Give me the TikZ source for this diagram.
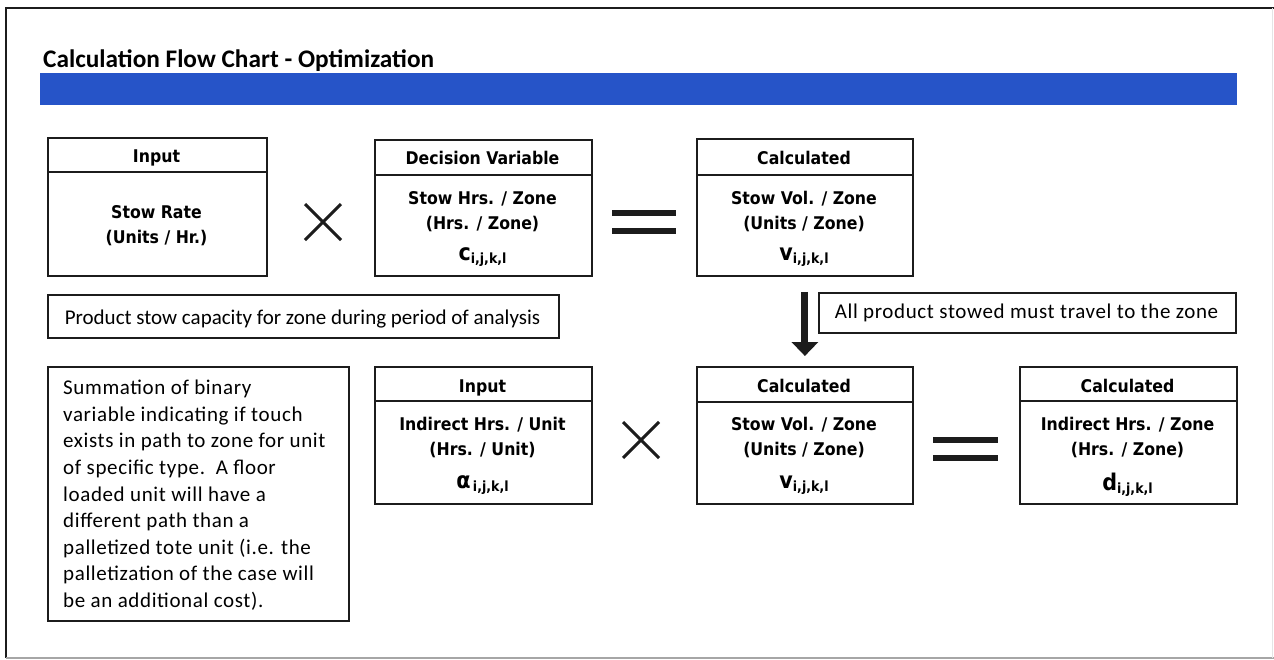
\documentclass[tikz,border=0pt]{standalone}
\usepackage{fontspec}
\setmainfont{Carlito}
\newfontfamily\boxfont{DejaVu Sans Condensed}
\newfontfamily\spacedfont{Carlito}[LetterSpace=3]
\usetikzlibrary{arrows.meta}
\definecolor{barblue}{RGB}{38,84,200}
\definecolor{ink}{RGB}{28,28,28}
% bold variable with a bold index
\newcommand\idxvar[2]{{\fontsize{23}{24}\selectfont #1}\raisebox{-3pt}{\fontsize{14}{16}\selectfont #2}}
\begin{document}
\begin{tikzpicture}[x=1pt,y=-1pt,
  box/.style={draw=ink, line width=1.8pt, anchor=north west, inner sep=0pt},
  lbl/.style={font=\boxfont\bfseries\fontsize{17.5}{20}\selectfont, anchor=base, inner sep=0pt},
  note/.style={font=\fontsize{21}{24}\selectfont, anchor=base, inner sep=0pt},
  times/.style={draw=ink, line width=3pt},
  eqbar/.style={draw=ink, line width=6pt},
  flow/.style={draw=ink, line width=7pt, -{Triangle[width=26pt,length=14pt]}},
]
\useasboundingbox (0,0) rectangle (1274,659);
\fill[white] (0,0) rectangle (1274,659);

% page frame
\draw[ink, line width=1.6pt] (1274,8) -- (6,8) -- (6,658);
\draw[gray!70, line width=1.4pt] (6,658) -- (1274,658);
\draw[gray!20, line width=1pt] (1272,8) -- (1272,658);

% title and banner
\node[font=\bfseries\fontsize{25.3}{28}\selectfont, anchor=base west, inner sep=0pt] (title) at (43,67) {Calculation Flow Chart - Optimization};
\fill[barblue] (40,73) rectangle (1237,105);

% ---- row 1 ----
\node[box, minimum width=219pt, minimum height=34pt] (Ahead) at (47,137) {};
\node[box, minimum width=219pt, minimum height=104pt] (Abody) at (47,171) {};
\node[lbl] (At) at (156.5,162) {Input};
\node[lbl] (Ab1) at (156.5,218) {Stow Rate};
\node[lbl] (Ab2) at (156.5,243) {(Units / Hr.)};

\draw[times] (305,204) -- (341,240) (305,240) -- (341,204);

\node[box, minimum width=217pt, minimum height=35pt] (Bhead) at (374,139) {};
\node[box, minimum width=217pt, minimum height=101pt] (Bbody) at (374,174) {};
\node[lbl] (Bt) at (482.5,164) {Decision Variable};
\node[lbl] (Bb1) at (482.5,204) {Stow Hrs. / Zone};
\node[lbl] (Bb2) at (482.5,229) {(Hrs. / Zone)};
\node[lbl] (Bb3) at (482.5,260) {\idxvar{c}{i,j,k,l}};

\draw[eqbar] (612,213) -- (676,213) (612,231) -- (676,231);

\node[box, minimum width=216pt, minimum height=36pt] (Chead) at (696,138) {};
\node[box, minimum width=216pt, minimum height=101pt] (Cbody) at (696,174) {};
\node[lbl] (Ct) at (804,164) {Calculated};
\node[lbl] (Cb1) at (804,204) {Stow Vol. / Zone};
\node[lbl] (Cb2) at (804,229) {(Units / Zone)};
\node[lbl] (Cb3) at (804,260) {\idxvar{v}{i,j,k,l}};

% ---- notes ----
\node[box, minimum width=511pt, minimum height=43pt] (N1) at (47,294) {};
\node[note] (N1t) at (302.5,324) {Product stow capacity for zone during period of analysis};
\node[box, minimum width=417pt, minimum height=40pt] (N2) at (818,292) {};
\node[note, font=\spacedfont\fontsize{21}{24}\selectfont] (N2t) at (1026.5,318) {All product stowed must travel to the zone};

% ---- row 2 ----
\node[box, minimum width=301pt, minimum height=254pt] (D) at (47,366) {};
\node[font=\spacedfont\fontsize{21}{26.6}\selectfont, anchor=north west, inner sep=0pt, align=left] (Dt) at (63,380)
  {Summation of binary\\
   variable indicating if touch\\
   exists in path to zone for unit\\
   of specific type.\ \ A floor\\
   loaded unit will have a\\
   different path than a\\
   palletized tote unit (i.e. the\\
   palletization of the case will\\
   be an additional cost).};

\node[box, minimum width=217pt, minimum height=34pt] (Ehead) at (374,366) {};
\node[box, minimum width=217pt, minimum height=103pt] (Ebody) at (374,400) {};
\node[lbl] (Et) at (482.5,392) {Input};
\node[lbl] (Eb1) at (482.5,430) {Indirect Hrs. / Unit};
\node[lbl] (Eb2) at (482.5,455) {(Hrs. / Unit)};
\node[lbl] (Eb3) at (482.5,488) {\idxvar{α}{\,i,j,k,l}};

\draw[times] (623,422) -- (659,458) (623,458) -- (659,422);

\node[box, minimum width=216pt, minimum height=35pt] (Fhead) at (696,366) {};
\node[box, minimum width=216pt, minimum height=102pt] (Fbody) at (696,401) {};
\node[lbl] (Ft) at (804,392) {Calculated};
\node[lbl] (Fb1) at (804,430) {Stow Vol. / Zone};
\node[lbl] (Fb2) at (804,455) {(Units / Zone)};
\node[lbl] (Fb3) at (804,488) {\idxvar{v}{i,j,k,l}};

\draw[eqbar] (933,440) -- (998,440) (933,458) -- (998,458);

\node[box, minimum width=217pt, minimum height=34pt] (Ghead) at (1019,366) {};
\node[box, minimum width=217pt, minimum height=103pt] (Gbody) at (1019,400) {};
\node[lbl] (Gt) at (1127.5,392) {Calculated};
\node[lbl] (Gb1) at (1127.5,430) {Indirect Hrs. / Zone};
\node[lbl] (Gb2) at (1127.5,455) {(Hrs. / Zone)};
\node[lbl] (Gb3) at (1127.5,490) {\idxvar{d}{i,j,k,l}};

% flow between the two stow volume boxes
\draw[flow] ([yshift=-15pt]Cbody.south) -- ([yshift=10pt]Fhead.north);
\end{tikzpicture}
\end{document}
